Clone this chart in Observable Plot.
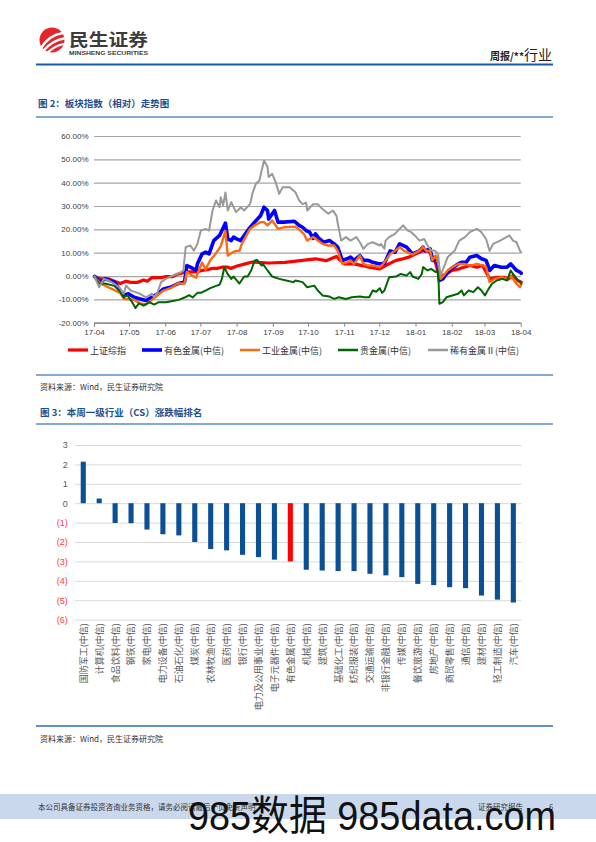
<!DOCTYPE html>
<html><head><meta charset="utf-8">
<script src="https://cdn.jsdelivr.net/npm/d3@7"></script>
<script src="https://cdn.jsdelivr.net/npm/@observablehq/plot@0.6"></script>
<style>
body{margin:0;background:#fff;}
#page{position:relative;width:596px;height:842px;overflow:hidden;font-family:"Noto Sans CJK SC","Liberation Sans",sans-serif;}
.abs{position:absolute;left:0;}
</style></head><body><div id="page"></div>
<script>
// ---------- Chart 1 data: [days since 2017-04-01, relative %] ----------
const startDate = "2017-04-01";
const shIndex = [[0,0],[5,-1],[12,-1],[17,-2],[22,-3],[27,-2],[31,-2.5],[37,-2.5],[42,-1.5],[45,-2],[49,-0.5],[57,-0.5],[61,0],[67,0],[71,1],[75,1.5],[81,2],[87,2],[91,2.5],[97,3],[101,3.5],[105,3.5],[109,4],[114,4],[117,3.5],[122,4.5],[129,5.4],[135,6.2],[149,5.8],[163,6.1],[178,6.9],[189,7.6],[198,6.8],[207,8.6],[209,7.5],[214,5.4],[222,5.4],[229,4.7],[235,4],[244,3.3],[249,4.7],[258,6.9],[264,7.6],[269,8.3],[275,9.7],[281,11],[285,11],[288,9.7],[292,5.4],[295,-0.3],[301,1.1],[306,2.6],[312,3.3],[321,4.7],[327,4],[332,4.7],[338,-1],[344,-0.3],[350,-0.3],[354,-1],[358,0.4],[362,-1.7],[365,-2.4]];
const nonferrous = [[0,0],[5,-2.4],[9,-1],[17,-2.4],[22,-6],[25,-8],[29,-7.4],[34,-8.9],[39,-9.6],[44,-10.3],[49,-8.9],[54,-7.4],[59,-5.3],[65,-4.6],[71,-3.1],[77,-2.4],[79,4.7],[82,4],[87,2.6],[88,5.4],[92,9.7],[95,10.4],[98,9.7],[102,15.4],[107,17.6],[109,19.7],[112,22.9],[114,16],[117,15.4],[119,16.9],[122,16],[125,15.4],[132,20.4],[137,23.3],[142,26],[145,29.7],[148,28.3],[149,24.6],[154,28.3],[157,23.3],[162,23.3],[171,23.7],[175,21.9],[178,21.1],[181,19.7],[184,19],[187,16.3],[189,18.3],[192,16.3],[196,14.7],[201,15.4],[205,14],[208,12.6],[212,6.9],[216,7.6],[219,8.3],[222,6.9],[227,9],[230,6.9],[234,6.9],[238,6.1],[244,5.4],[248,5.7],[253,11],[257,10.4],[261,14],[267,12.6],[272,9.7],[278,11],[281,12.6],[283,11],[287,11.9],[289,6.9],[292,8.3],[294,4.7],[295,-1.7],[298,-1],[301,1.1],[305,3.3],[311,5.4],[314,6.1],[318,6.1],[321,8.3],[327,9],[331,7.6],[335,6.9],[338,2.6],[342,4.7],[348,4],[353,4],[356,5.4],[361,2.6],[364,1.9],[365,1.4]];
const industrialMetals = [[0,0],[5,-3],[22,-7],[25,-9.5],[34,-10],[39,-11.5],[44,-12],[49,-10],[54,-8],[59,-6],[65,-5],[71,-3],[77,-3],[79,2],[83,0.5],[87,-0.5],[88,1],[92,6],[95,3],[99,7],[104,10],[108,13],[112,19.5],[114,9],[117,10],[121,11],[124,11],[126,14],[133,20.4],[137,21.9],[142,23.3],[145,23.3],[148,21.9],[152,24],[157,20.4],[162,21.1],[172,21.4],[176,19.7],[179,18.3],[182,15.4],[187,16.9],[191,15.4],[195,14],[200,13.3],[205,13.3],[208,11],[212,5.4],[216,6.1],[219,6.9],[222,5.4],[227,9],[230,5.4],[234,4.7],[238,4.7],[244,4],[247,5.4],[253,9.7],[257,11],[261,12.6],[265,11],[272,9.4],[278,11],[281,12.6],[284,11],[287,11],[289,6.9],[292,9],[294,5.4],[296,-1],[298,0],[302,2.6],[306,4],[311,5.4],[316,5.4],[322,4.7],[327,5.4],[333,4.7],[335,4],[338,-2.4],[342,-1],[348,-0.3],[353,-1],[356,0.4],[361,-3.1],[364,-4.6],[365,-3.1]];
const preciousMetals = [[0,0],[4,-3],[9,-3],[17,-4],[21,-6],[25,-9],[28,-8],[31,-10],[34,-12.5],[35,-13.5],[38,-11.5],[42,-12.5],[47,-11],[51,-12],[55,-11],[61,-11],[67,-10.5],[72,-10],[77,-9],[81,-8],[84,-9],[88,-7],[91,-7],[95,-6],[99,-5],[104,-4],[107,-3.5],[109,-1],[111,4],[114,1],[117,-1],[119,0],[124,-3],[128,0],[131,0],[134,2.6],[137,6.9],[139,7.1],[143,4.7],[144,5.4],[148,2.6],[152,0],[158,-1],[164,-1.7],[170,-2.4],[172,-1.7],[178,-2.4],[182,-4.6],[188,-3.9],[191,-6],[195,-8.1],[201,-8.6],[205,-9.6],[209,-8.9],[215,-9.6],[220,-8.9],[227,-8.6],[231,-8.9],[235,-8.9],[238,-6],[241,-6.5],[244,-5],[246,-7],[248,-6],[252,-0.3],[258,0],[262,1.1],[267,0.4],[270,1.9],[272,0],[277,-1],[280,1.1],[281,4],[285,2.6],[288,3.3],[292,1.9],[294,2.6],[295,-11.7],[298,-11],[301,-8.9],[306,-8.1],[311,-7.4],[314,-6],[316,-8.1],[320,-6],[324,-6.7],[328,-4.6],[331,-6],[334,-8.1],[337,-5.4],[340,-3.1],[344,-1.7],[349,-1],[353,-1.7],[356,2.6],[361,-1],[364,-2.4],[365,-3.1]];
const rareMetals = [[0,0],[4,-4.6],[8,-1],[12,-1.7],[17,-3.1],[21,-4.6],[25,-7.4],[27,-3.9],[31,-6],[35,-6.7],[39,-7.4],[44,-8.9],[49,-7.4],[51,-8.9],[54,-6.7],[57,-2.4],[61,-1],[65,0],[70,0.9],[74,1.9],[76,2.6],[78,12.6],[82,13.3],[85,11.1],[88,14],[91,19.7],[95,20.4],[98,19.7],[101,28.3],[104,32.6],[107,29.7],[108,34],[110,30.4],[112,36],[114,28.3],[117,31.9],[121,27.6],[124,29],[125,29.7],[128,28.3],[133,31],[135,35.4],[138,39.7],[141,41],[143,45.4],[145,49.7],[148,47],[149,42.6],[152,44],[155,40.4],[158,35.4],[161,38.3],[167,38.3],[172,36],[175,32.6],[178,31],[181,31.7],[182,28.3],[187,31],[191,31],[195,28.9],[200,26.9],[204,28.3],[207,26],[208,23],[211,15.4],[215,16.9],[219,15.4],[224,16.9],[227,14.7],[230,11.9],[234,14],[238,14.7],[244,13.3],[245,14],[248,11.9],[249,15.4],[252,16.9],[257,18.3],[261,20.4],[264,21.9],[268,19.7],[271,19],[274,17.6],[278,15.4],[282,16.1],[285,13.3],[288,11.1],[291,11.1],[294,9.7],[295,3.3],[296,0.4],[300,5.4],[302,8.3],[308,11],[312,15.4],[317,16.9],[321,19],[327,20.4],[331,19],[335,16],[338,11],[341,14],[347,15.4],[355,17.6],[358,15.4],[361,14.7],[364,11],[365,10.3]];
const seriesNames = ["上证综指","有色金属(中信)","工业金属(中信)","贵金属(中信)","稀有金属Ⅱ(中信)"];
const yTicks1 = [-20,-10,0,10,20,30,40,50,60];

// ---------- Chart 2 data ----------
const industries = ["国防军工(中信)","计算机(中信)","食品饮料(中信)","钢铁(中信)","家电(中信)","电力设备(中信)","石油石化(中信)","煤炭(中信)","农林牧渔(中信)","医药(中信)","银行(中信)","电力及公用事业(中信)","电子元器件(中信)","有色金属(中信)","机械(中信)","建筑(中信)","基础化工(中信)","纺织服装(中信)","交通运输(中信)","非银行金融(中信)","传媒(中信)","餐饮旅游(中信)","房地产(中信)","商贸零售(中信)","通信(中信)","建材(中信)","轻工制造(中信)","汽车(中信)"];
const weeklyChange = [2.14,0.24,-1.02,-1.03,-1.36,-1.6,-1.66,-2.0,-2.36,-2.43,-2.66,-2.78,-2.91,-3.0,-3.43,-3.47,-3.5,-3.5,-3.64,-3.72,-3.81,-4.16,-4.22,-4.33,-4.38,-4.76,-4.97,-5.12];
const highlightIndustry = "有色金属(中信)";
const yTicks2 = [-6,-5,-4,-3,-2,-1,0,1,2,3];

// ---------- page ----------
const page = document.getElementById("page");
const NS = "http://www.w3.org/2000/svg";
const deco = d3.select(page).append("svg").attr("class","abs").style("top","0px")
  .attr("width",596).attr("height",842);
const cjk = "'Noto Sans CJK SC', sans-serif";

// logo
deco.append("circle").attr("cx",52).attr("cy",40).attr("r",12.5).attr("fill","#e3262e");
[["M41,48 Q49,35 63,33",2.4],["M43,51 Q53,40 64,38.5",2.4],["M47,53 Q56,45 64,44",2.2]].forEach(([p,w])=>
  deco.append("path").attr("d",p).attr("fill","none").attr("stroke","#fff").attr("stroke-width",w).attr("stroke-linecap","round"));
deco.append("text").attr("x",69).attr("y",46).attr("font-family",cjk).attr("font-weight","bold")
  .attr("font-size",17).attr("fill","#3c3c3c").attr("textLength",79).attr("lengthAdjust","spacingAndGlyphs").text("民生证券");
deco.append("text").attr("x",69).attr("y",55).attr("font-family","'Liberation Sans',Arial,sans-serif").attr("font-weight","bold")
  .attr("font-size",5.8).attr("fill","#3c3c3c").attr("textLength",79).attr("lengthAdjust","spacingAndGlyphs").text("MINSHENG SECURITIES");
const hdr = deco.append("text").attr("x",552).attr("y",60).attr("text-anchor","end").attr("font-family",cjk).attr("fill","#222");
hdr.append("tspan").attr("font-size",10).attr("font-weight","bold").text("周报/**");
hdr.append("tspan").attr("font-size",14).text("行业");

function hline(y, color, w){ deco.append("line").attr("x1",36).attr("x2",553).attr("y1",y).attr("y2",y).attr("stroke",color).attr("stroke-width",w); }
function label(x,y,txt,size,color,weight){ return deco.append("text").attr("x",x).attr("y",y).attr("font-family",cjk)
  .attr("font-size",size).attr("fill",color).attr("font-weight",weight||"normal").text(txt); }

hline(64.5,"#1b5aa6",2);
label(38,107,"图 2：板块指数（相对）走势图",9.5,"#1f4e8c","bold");
hline(117,"#5b8cc4",1.5);
hline(375,"#5b8cc4",1.5);
label(40,390,"资料来源：Wind，民生证券研究院",8,"#333");
label(40,415.5,"图 3：本周一级行业（CS）涨跌幅排名",9.5,"#1f4e8c","bold");
hline(424,"#5b8cc4",1.5);
hline(726,"#2d6bb3",1.5);
label(40,742,"资料来源：Wind，民生证券研究院",8,"#333");

// footer band
deco.append("rect").attr("x",0).attr("y",794).attr("width",596).attr("height",25).attr("fill","#c9d8ec");
label(38,809.5,"本公司具备证券投资咨询业务资格，请务必阅读最后一页免责声明",7.5,"#333");
label(478,809.5,"证券研究报告",7.5,"#333");
label(549,809.5,"6",7.5,"#333");

// legend for chart 1
const colors1 = ["#ff0000","#0000ff","#ff6a10","#006400","#999999"];
const widths1 = [3.2,3.6,2.4,2,2];
const legX = [68,142,240,338,428];
seriesNames.forEach((n,i)=>{
  deco.append("line").attr("x1",legX[i]).attr("x2",legX[i]+20).attr("y1",350).attr("y2",350)
    .attr("stroke",colors1[i]).attr("stroke-width",Math.max(2.5,widths1[i]));
  label(legX[i]+22,353.5,n,9,"#333");
});

// ---------- Chart 1 ----------
const start = new Date(startDate + "T00:00:00Z");
const toDate = d => d3.utcDay.offset(start, d);
const monthTicks = d3.range(0,13).map(m => d3.utcMonth.offset(start, m));
const seriesData = [shIndex, nonferrous, industrialMetals, preciousMetals, rareMetals];

const chart1 = Plot.plot({
  width: 596, height: 225,
  marginLeft: 94, marginRight: 75.3, marginTop: 16, marginBottom: 22.3,
  style: {fontFamily: "'Liberation Sans', Arial, sans-serif", fontSize: "8px", color: "#404040", background: "transparent", overflow: "visible"},
  x: {type: "utc", domain: [start, monthTicks[12]], label: null},
  y: {domain: [-20, 60], label: null},
  marks: [
    Plot.gridY(yTicks1, {stroke: "#a6a6a6", strokeOpacity: 1, strokeWidth: 1.2}),
    Plot.axisY(yTicks1, {tickSize: 0, tickPadding: 6, tickFormat: d => d.toFixed(2) + "%", fill: "#404040"}),
    Plot.axisX(monthTicks, {tickSize: 4, tickPadding: 2, tickFormat: d3.utcFormat("%y-%m"), stroke: "#868686", fill: "#404040"}),
    Plot.ruleY([-20], {stroke: "#868686", strokeWidth: 1.2}),
    ...seriesData.map((s, i) => Plot.line(s, {x: d => toDate(d[0]), y: d => d[1], stroke: colors1[i], strokeWidth: widths1[i], strokeLinejoin: "round"}))
  ]
});
chart1.classList.add("abs"); chart1.style.top = "120px";
page.appendChild(chart1);

// ---------- Chart 2 ----------
const rows2 = industries.map((name, i) => ({name, value: weeklyChange[i]}));
const chart2 = Plot.plot({
  width: 596, height: 280,
  marginLeft: 75.3, marginRight: 74.7, marginTop: 15, marginBottom: 90.4,
  style: {fontFamily: "'Noto Sans CJK SC', 'Liberation Sans', sans-serif", fontSize: "9px", color: "#595959", background: "transparent", overflow: "visible"},
  x: {type: "band", domain: industries, paddingInner: 0.68, paddingOuter: 0.34, round: false, label: null},
  y: {domain: [-6, 3], label: null},
  color: {type: "identity"},
  marks: [
    Plot.gridY(yTicks2, {stroke: "#d9d9d9", strokeOpacity: 1, strokeWidth: 1}),
    Plot.barY(rows2, {x: "name", y: "value", fill: d => d.name === highlightIndustry ? "#ff0000" : "#0b4f94"}),
    Plot.axisY(yTicks2.filter(d => d >= 0), {tickSize: 0, tickPadding: 8, fill: "#595959", tickFormat: d => String(d), fontFamily: "'Liberation Sans', Arial, sans-serif"}),
    Plot.axisY(yTicks2.filter(d => d < 0), {tickSize: 0, tickPadding: 8, fill: "#ff3a3a", tickFormat: d => `(${-d})`, fontFamily: "'Liberation Sans', Arial, sans-serif"}),
    Plot.axisX({tickSize: 0, tickPadding: 3, tickRotate: -90, fill: "#595959", fontSize: 9})
  ]
});
chart2.classList.add("abs"); chart2.style.top = "430px";
page.appendChild(chart2);

// watermark overlay
const wm = d3.select(page).append("svg").attr("class","abs").style("top","0px").style("pointer-events","none")
  .attr("width",596).attr("height",842);
wm.append("text").attr("x",188).attr("y",830).attr("font-family","'Liberation Sans','Noto Sans CJK SC',sans-serif")
  .attr("font-size",41).attr("fill","#111").attr("textLength",368).attr("lengthAdjust","spacingAndGlyphs").text("985数据 985data.com");
</script>
</body></html>
